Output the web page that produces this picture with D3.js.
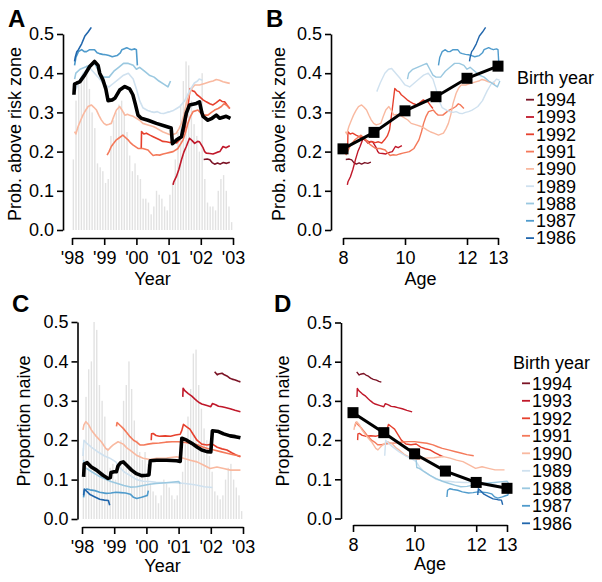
<!DOCTYPE html>
<html><head><meta charset="utf-8">
<script src="https://cdn.jsdelivr.net/npm/d3@7"></script>
<style>
body{margin:0;background:#fff;}
svg text{font-family:"Liberation Sans",Arial,Helvetica,sans-serif;}
</style></head>
<body><svg id="c" width="602" height="582"></svg>
<script>
// ---------- data ----------
const birthYears = [1994,1993,1992,1991,1990,1989,1988,1987,1986];
const cohortColors = ["#7b1325","#c0182a","#e6412e","#f4795a","#f9b9a0","#cfe1ef","#9ac8e0","#4f9bcc","#2166ac"];
const yearTicks = [1998,1999,2000,2001,2002,2003];
const yearTickLabels = ["'98","'99","'00","'01","'02","'03"];
const ageTicks = [8,10,12,13];
const probTicks = [0,0.1,0.2,0.3,0.4,0.5];
const ages = [8,9,10,11,12,13];
const riskByAge = [0.207,0.249,0.304,0.34,0.387,0.418];
const naiveByAge = [0.27,0.219,0.165,0.121,0.092,0.077];

// monthly bars (1998-2002), relative heights on each panel's axis
const barsA = [0.18,0.33,0.37,0.39,0.40,0.42,0.36,0.30,0.26,0.17,0.16,0.15,
  0.12,0.13,0.24,0.28,0.30,0.32,0.33,0.30,0.25,0.19,0.15,0.17,
  0.14,0.13,0.08,0.08,0.07,0.04,0.06,0.10,0.09,0.08,0.06,0.05,
  0.09,0.12,0.18,0.25,0.32,0.38,0.43,0.42,0.33,0.27,0.24,0.20,
  0.40,0.13,0.07,0.06,0.06,0.05,0.10,0.13,0.14,0.10,0.06,0.02];
const barsC = [0.18,0.31,0.38,0.40,0.50,0.48,0.34,0.30,0.26,0.18,0.13,0.14,
  0.10,0.12,0.20,0.30,0.34,0.40,0.33,0.25,0.20,0.17,0.15,0.17,
  0.14,0.09,0.07,0.06,0.04,0.06,0.10,0.09,0.08,0.06,0.05,0.06,
  0.09,0.12,0.19,0.26,0.33,0.42,0.43,0.34,0.28,0.23,0.20,0.16,
  0.12,0.07,0.06,0.05,0.06,0.10,0.13,0.14,0.10,0.08,0.06,0.02];

// overall means over time
const riskMean = [[1998.06,0.345],[1998.08,0.372],[1998.15,0.375],[1998.24,0.378],[1998.39,0.395],[1998.55,0.417],[1998.7,0.43],[1998.81,0.42],[1998.86,0.40],[1998.96,0.383],[1999.05,0.36],[1999.12,0.33],[1999.25,0.332],[1999.33,0.336],[1999.48,0.357],[1999.64,0.366],[1999.79,0.36],[1999.89,0.345],[1999.97,0.32],[2000.05,0.293],[2000.15,0.285],[2000.36,0.28],[2000.62,0.272],[2000.93,0.264],[2001.08,0.26],[2001.12,0.22],[2001.25,0.23],[2001.4,0.238],[2001.55,0.298],[2001.65,0.319],[2001.86,0.323],[2001.96,0.327],[2002.03,0.3],[2002.07,0.29],[2002.22,0.28],[2002.35,0.285],[2002.48,0.293],[2002.59,0.285],[2002.79,0.29],[2002.92,0.285]];
const naiveMean = [[1998.05,0.107],[1998.07,0.14],[1998.16,0.143],[1998.29,0.132],[1998.45,0.124],[1998.65,0.111],[1998.81,0.103],[1998.88,0.105],[1998.9,0.118],[1999.0,0.12],[1999.07,0.12],[1999.12,0.135],[1999.2,0.143],[1999.28,0.145],[1999.38,0.137],[1999.54,0.124],[1999.69,0.115],[1999.85,0.11],[2000.0,0.111],[2000.08,0.112],[2000.12,0.148],[2000.32,0.149],[2000.63,0.149],[2000.94,0.148],[2001.05,0.146],[2001.1,0.205],[2001.25,0.2],[2001.41,0.192],[2001.57,0.183],[2001.72,0.175],[2001.88,0.171],[2002.0,0.17],[2002.05,0.224],[2002.24,0.222],[2002.4,0.216],[2002.6,0.211],[2002.76,0.209],[2002.92,0.206]];

// probability above risk zone by cohort, [time, value]
const risk1994 = [[2002.09,0.18],[2002.2,0.181],[2002.28,0.179],[2002.35,0.172],[2002.43,0.168],[2002.52,0.171],[2002.6,0.168],[2002.7,0.172],[2002.8,0.17],[2002.9,0.173]];
const risk1993 = [[2001.14,0.115],[2001.16,0.123],[2001.24,0.136],[2001.32,0.155],[2001.4,0.179],[2001.48,0.2],[2001.55,0.213],[2001.65,0.234],[2001.73,0.228],[2001.81,0.221],[2001.9,0.226],[2001.96,0.225],[2002.07,0.21],[2002.12,0.2],[2002.17,0.196],[2002.28,0.195],[2002.38,0.194],[2002.5,0.198],[2002.59,0.2],[2002.69,0.213],[2002.78,0.21],[2002.9,0.215]];
const risk1992 = [[2000.15,0.208],[2000.16,0.251],[2000.23,0.245],[2000.31,0.247],[2000.42,0.242],[2000.52,0.238],[2000.62,0.234],[2000.72,0.23],[2000.82,0.226],[2000.93,0.225],[2001.04,0.223],[2001.14,0.225],[2001.25,0.222],[2001.34,0.23],[2001.43,0.24],[2001.5,0.255],[2001.56,0.29],[2001.6,0.315],[2001.67,0.361],[2001.74,0.355],[2001.81,0.353],[2001.88,0.345],[2001.96,0.34],[2002.07,0.332],[2002.17,0.327],[2002.28,0.322],[2002.38,0.319],[2002.48,0.325],[2002.59,0.332],[2002.66,0.328],[2002.74,0.327],[2002.82,0.318],[2002.9,0.31]];
const risk1991 = [[1999.09,0.191],[1999.15,0.2],[1999.22,0.213],[1999.3,0.222],[1999.38,0.23],[1999.48,0.236],[1999.58,0.242],[1999.66,0.236],[1999.74,0.23],[1999.82,0.222],[1999.89,0.217],[2000.05,0.208],[2000.2,0.208],[2000.36,0.204],[2000.45,0.196],[2000.52,0.19],[2000.62,0.192],[2000.72,0.191],[2000.83,0.194],[2000.93,0.196],[2001.04,0.198],[2001.14,0.2],[2001.29,0.208],[2001.45,0.23],[2001.53,0.25],[2001.6,0.272],[2001.68,0.29],[2001.76,0.302],[2001.91,0.306],[2002.0,0.298],[2002.07,0.293],[2002.22,0.293],[2002.33,0.3],[2002.43,0.306],[2002.54,0.31],[2002.64,0.315],[2002.72,0.322],[2002.79,0.319],[2002.9,0.31]];
const risk1990 = [[1998.08,0.251],[1998.12,0.245],[1998.19,0.264],[1998.27,0.28],[1998.34,0.293],[1998.42,0.305],[1998.5,0.315],[1998.6,0.319],[1998.68,0.313],[1998.76,0.306],[1998.84,0.292],[1998.91,0.281],[1998.99,0.272],[1999.07,0.268],[1999.15,0.27],[1999.22,0.272],[1999.3,0.29],[1999.38,0.306],[1999.48,0.315],[1999.56,0.305],[1999.64,0.293],[1999.72,0.295],[1999.79,0.293],[1999.9,0.29],[2000.0,0.285],[2000.1,0.28],[2000.2,0.272],[2000.36,0.268],[2000.52,0.264],[2000.62,0.26],[2000.72,0.255],[2000.83,0.25],[2000.93,0.247],[2001.08,0.242],[2001.24,0.247],[2001.32,0.258],[2001.4,0.272],[2001.48,0.295],[2001.55,0.323],[2001.65,0.349],[2001.73,0.362],[2001.81,0.37],[2001.96,0.37],[2002.12,0.374],[2002.28,0.378],[2002.38,0.38],[2002.48,0.384],[2002.58,0.382],[2002.69,0.378],[2002.8,0.376],[2002.9,0.374]];
const risk1989 = [[1998.09,0.353],[1998.2,0.375],[1998.35,0.40],[1998.47,0.41],[1998.57,0.412],[1998.7,0.40],[1998.84,0.387],[1999.0,0.37],[1999.15,0.365],[1999.3,0.375],[1999.45,0.385],[1999.6,0.395],[1999.75,0.40],[1999.9,0.385],[2000.0,0.36],[2000.1,0.33],[2000.2,0.312],[2000.35,0.305],[2000.45,0.302],[2000.55,0.30],[2000.65,0.302],[2000.75,0.298],[2000.85,0.297],[2000.95,0.30],[2001.05,0.302],[2001.15,0.305],[2001.25,0.31],[2001.35,0.315],[2001.5,0.33],[2001.65,0.355],[2001.8,0.375],[2001.9,0.38],[2001.95,0.385],[2002.05,0.382]];
const risk1988 = [[1998.08,0.385],[1998.12,0.40],[1998.25,0.41],[1998.4,0.415],[1998.55,0.42],[1998.7,0.425],[1998.8,0.41],[1998.9,0.395],[1999.0,0.39],[1999.15,0.39],[1999.3,0.405],[1999.45,0.415],[1999.6,0.425],[1999.75,0.425],[1999.9,0.42],[2000.0,0.41],[2000.1,0.415],[2000.25,0.405],[2000.4,0.395],[2000.55,0.39],[2000.7,0.38],[2000.85,0.372],[2000.98,0.365],[2001.06,0.38]];
const risk1987 = [[1998.08,0.42],[1998.12,0.44],[1998.2,0.455],[1998.3,0.46],[1998.38,0.455],[1998.45,0.455],[1998.55,0.46],[1998.7,0.46],[1998.78,0.452],[1998.85,0.45],[1998.95,0.448],[1999.05,0.447],[1999.15,0.445],[1999.25,0.442],[1999.4,0.445],[1999.5,0.452],[1999.55,0.46],[1999.7,0.465],[1999.78,0.462],[1999.85,0.46],[1999.95,0.462],[2000.0,0.46],[2000.03,0.42]];
const risk1986 = [[1998.08,0.43],[1998.1,0.44],[1998.15,0.455],[1998.2,0.46],[1998.3,0.475],[1998.4,0.495],[1998.5,0.505],[1998.6,0.517]];

// proportion naive by cohort, [time, value]
const naive1994 = [[2002.12,0.374],[2002.2,0.366],[2002.24,0.368],[2002.35,0.37],[2002.42,0.366],[2002.5,0.363],[2002.58,0.358],[2002.66,0.355],[2002.76,0.353],[2002.84,0.35],[2002.92,0.348]];
const naive1993 = [[2001.13,0.31],[2001.14,0.332],[2001.2,0.325],[2001.3,0.318],[2001.41,0.312],[2001.5,0.305],[2001.57,0.30],[2001.65,0.295],[2001.72,0.292],[2001.88,0.288],[2002.0,0.285],[2002.05,0.293],[2002.15,0.29],[2002.24,0.286],[2002.35,0.285],[2002.45,0.283],[2002.6,0.28],[2002.75,0.276],[2002.92,0.272]];
const naive1992 = [[2000.15,0.2],[2000.16,0.216],[2000.21,0.217],[2000.3,0.212],[2000.4,0.21],[2000.58,0.211],[2000.75,0.21],[2000.9,0.213],[2001.05,0.215],[2001.1,0.225],[2001.15,0.24],[2001.25,0.234],[2001.35,0.228],[2001.45,0.215],[2001.57,0.2],[2001.72,0.19],[2001.88,0.188],[2002.05,0.19],[2002.2,0.182],[2002.35,0.178],[2002.5,0.175],[2002.65,0.168],[2002.8,0.162],[2002.92,0.158]];
const naive1991 = [[1999.07,0.235],[1999.09,0.245],[1999.18,0.238],[1999.28,0.23],[1999.4,0.218],[1999.49,0.209],[1999.6,0.2],[1999.7,0.195],[1999.8,0.188],[1999.92,0.188],[2000.05,0.19],[2000.2,0.192],[2000.4,0.193],[2000.6,0.195],[2000.8,0.196],[2001.0,0.196],[2001.2,0.194],[2001.4,0.192],[2001.6,0.188],[2001.75,0.183],[2001.9,0.179],[2002.1,0.175],[2002.3,0.171],[2002.5,0.167],[2002.7,0.163],[2002.92,0.16]];
const naive1990 = [[1998.03,0.226],[1998.06,0.239],[1998.12,0.247],[1998.2,0.24],[1998.29,0.226],[1998.45,0.209],[1998.6,0.196],[1998.74,0.179],[1998.81,0.175],[1998.9,0.183],[1998.97,0.188],[1999.12,0.196],[1999.28,0.19],[1999.4,0.18],[1999.49,0.175],[1999.69,0.162],[1999.9,0.154],[2000.11,0.151],[2000.32,0.154],[2000.63,0.155],[2000.94,0.158],[2001.15,0.154],[2001.36,0.149],[2001.57,0.145],[2001.77,0.137],[2001.98,0.128],[2002.19,0.132],[2002.4,0.128],[2002.61,0.124],[2002.92,0.124]];
const naive1989 = [[1998.03,0.16],[1998.06,0.2],[1998.15,0.192],[1998.3,0.182],[1998.5,0.17],[1998.7,0.16],[1998.85,0.155],[1998.95,0.15],[1999.05,0.145],[1999.15,0.133],[1999.3,0.12],[1999.5,0.11],[1999.7,0.1],[1999.9,0.096],[2000.1,0.095],[2000.3,0.093],[2000.6,0.092],[2000.9,0.092],[2001.2,0.09],[2001.5,0.087],[2001.8,0.082],[2002.05,0.08]];
const naive1988 = [[1998.05,0.15],[1998.07,0.13],[1998.15,0.128],[1998.3,0.12],[1998.5,0.11],[1998.7,0.102],[1998.9,0.095],[1999.1,0.09],[1999.3,0.085],[1999.5,0.081],[1999.7,0.082],[1999.9,0.085],[2000.1,0.088],[2000.3,0.09],[2000.6,0.092],[2000.85,0.094],[2001.0,0.095],[2001.05,0.09]];
const naive1987 = [[1998.05,0.055],[1998.07,0.072],[1998.15,0.076],[1998.25,0.074],[1998.4,0.072],[1998.55,0.068],[1998.75,0.065],[1998.9,0.066],[1999.05,0.068],[1999.2,0.067],[1999.35,0.066],[1999.5,0.063],[1999.6,0.055],[1999.7,0.052],[1999.85,0.055],[1999.95,0.058],[2000.03,0.06],[2000.06,0.072]];
const naive1986 = [[1998.05,0.06],[1998.07,0.076],[1998.15,0.07],[1998.25,0.062],[1998.4,0.056],[1998.55,0.05],[1998.7,0.048],[1998.82,0.047],[1998.86,0.035]];

const riskCohorts = [risk1994,risk1993,risk1992,risk1991,risk1990,risk1989,risk1988,risk1987,risk1986];
const naiveCohorts = [naive1994,naive1993,naive1992,naive1991,naive1990,naive1989,naive1988,naive1987,naive1986];

// ---------- drawing ----------
const svg = d3.select("#c");
svg.append("rect").attr("width",602).attr("height",582).attr("fill","#fff");
const FS = 18;

function styleAxis(g){
  g.selectAll("path.domain").attr("stroke","#000").attr("stroke-width",1.6);
  g.selectAll(".tick line").attr("stroke","#000").attr("stroke-width",1.6);
  g.selectAll("text").attr("font-size",FS).attr("fill","#000")
   .attr("font-family","Liberation Sans, Arial, sans-serif");
}

function panel(o){
  const x = d3.scaleLinear().domain(o.xDom).range(o.xRange);
  const y = d3.scaleLinear().domain([0,0.5]).range(o.yRange);
  const g = svg.append("g");
  // y axis
  const ya = g.append("g").attr("transform",`translate(${o.yAxisX},0)`)
    .call(d3.axisLeft(y).tickValues(probTicks).tickFormat(d3.format(".1f")).tickSize(6).tickSizeOuter(0).tickPadding(3));
  styleAxis(ya);
  // x axis
  const xa = g.append("g").attr("transform",`translate(0,${o.xAxisY})`)
    .call(d3.axisBottom(x).tickValues(o.ticks).tickFormat((d,i)=>o.tickLabels[i]).tickSize(7).tickSizeOuter(0).tickPadding(6));
  styleAxis(xa);
  // titles
  g.append("text").attr("x",(o.xRange[0]+o.xRange[1])/2).attr("y",o.xTitleY)
    .attr("text-anchor","middle").attr("font-size",FS).text(o.xTitle);
  g.append("text").attr("transform",`translate(${o.yTitleX},${o.yTitleY}) rotate(-90)`)
    .attr("text-anchor","middle").attr("font-size",FS).text(o.yTitle);
  g.append("text").attr("x",o.letterX).attr("y",o.letterY).attr("font-size",24)
    .attr("font-weight","bold").text(o.letter);
  return {x,y,g};
}

function timeLines(p, bars, cohorts, mean){
  const {x,y,g} = p;
  g.append("g").selectAll("rect").data(bars).join("rect")
    .attr("x",(d,i)=>x(1998+(i+0.5)/12)-0.7).attr("width",1.4)
    .attr("y",d=>y(d)).attr("height",d=>y(0)-y(d)).attr("fill","#e2e2e2");
  const line = d3.line().x(d=>x(d[0])).y(d=>y(d[1]));
  g.append("g").selectAll("path").data(cohorts).join("path")
    .attr("d",line).attr("fill","none").attr("stroke",(d,i)=>cohortColors[i])
    .attr("stroke-width",1.6).attr("stroke-linejoin","round");
  g.append("path").datum(mean).attr("d",line).attr("fill","none")
    .attr("stroke","#000").attr("stroke-width",3.6).attr("stroke-linejoin","round");
}

function ageLines(p, cohorts, means, legX, legTitleY, legY0, legDy){
  const {x,y,g} = p;
  g.append("g").selectAll("path").data(cohorts).join("path")
    .attr("d",(d,i)=>d3.line().x(e=>x(e[0]-birthYears[i])).y(e=>y(e[1]))(d))
    .attr("fill","none").attr("stroke",(d,i)=>cohortColors[i])
    .attr("stroke-width",1.4).attr("stroke-linejoin","round");
  const pts = ages.map((a,i)=>[a,means[i]]);
  g.append("path").datum(pts).attr("d",d3.line().x(d=>x(d[0])).y(d=>y(d[1])))
    .attr("fill","none").attr("stroke","#000").attr("stroke-width",3);
  g.append("g").selectAll("rect").data(pts).join("rect")
    .attr("x",d=>x(d[0])-5.5).attr("y",d=>y(d[1])-5.5).attr("width",11).attr("height",11).attr("fill","#000");
  // legend
  const lg = g.append("g");
  lg.append("text").attr("x",legX).attr("y",legTitleY).attr("font-size",FS).text("Birth year");
  const it = lg.selectAll("g").data(birthYears).join("g")
    .attr("transform",(d,i)=>`translate(${legX},${legY0+i*legDy})`);
  it.append("line").attr("x1",9).attr("x2",17).attr("y1",0).attr("y2",0)
    .attr("stroke",(d,i)=>cohortColors[i]).attr("stroke-width",1.8);
  it.append("text").attr("x",19).attr("y",6.3).attr("font-size",FS).text(d=>d);
}

const pA = panel({xDom:[1998,2003],xRange:[72,233],yRange:[230,34],yAxisX:63,xAxisY:238,
  ticks:yearTicks,tickLabels:yearTickLabels,xTitle:"Year",xTitleY:285,
  yTitle:"Prob. above risk zone",yTitleX:21,yTitleY:134,letter:"A",letterX:8,letterY:27});
timeLines(pA, barsA, riskCohorts, riskMean);

const pB = panel({xDom:[8,13],xRange:[343,498],yRange:[230,34],yAxisX:331,xAxisY:238,
  ticks:ageTicks,tickLabels:ageTicks.map(String),xTitle:"Age",xTitleY:285,
  yTitle:"Prob. above risk zone",yTitleX:285,yTitleY:134,letter:"B",letterX:266,letterY:27});
ageLines(pB, riskCohorts, riskByAge, 517, 83.5, 99.7, 17.3);

const pC = panel({xDom:[1998,2003],xRange:[82,243],yRange:[519,322],yAxisX:77.5,xAxisY:527,
  ticks:yearTicks,tickLabels:yearTickLabels,xTitle:"Year",xTitleY:572,
  yTitle:"Proportion naive",yTitleX:30,yTitleY:421,letter:"C",letterX:12,letterY:312});
timeLines(pC, barsC, naiveCohorts, naiveMean);

const pD = panel({xDom:[8,13],xRange:[353,507],yRange:[518.5,322.5],yAxisX:341,xAxisY:525,
  ticks:ageTicks,tickLabels:ageTicks.map(String),xTitle:"Age",xTitleY:570,
  yTitle:"Proportion naive",yTitleX:289,yTitleY:421,letter:"D",letterX:274,letterY:312});
ageLines(pD, naiveCohorts, naiveByAge, 513, 369, 383.3, 17.5);
</script></body></html>
